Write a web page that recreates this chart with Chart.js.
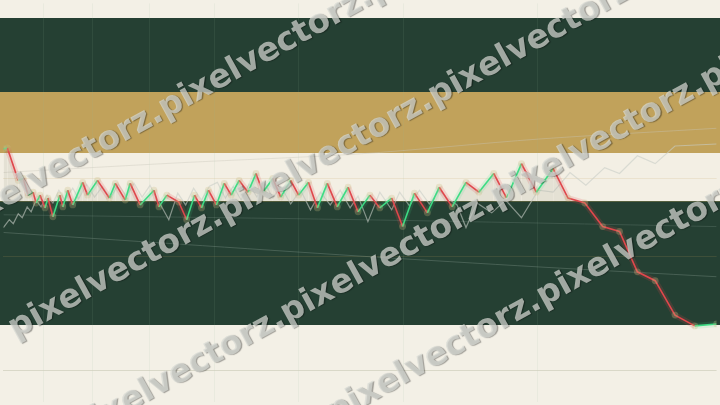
<!DOCTYPE html>
<html><head><meta charset="utf-8">
<script src="https://cdn.jsdelivr.net/npm/chart.js@4"></script>
<style>
html,body{margin:0;padding:0;}
body{width:720px;height:405px;overflow:hidden;position:relative;
background:linear-gradient(to bottom,#f3f0e6 0px,#f3f0e6 18px,#254033 18px,#254033 92px,#c1a25b 92px,#c1a25b 153px,#f3efe4 153px,#f3efe4 201px,#55603f 201px,#55603f 202px,#254033 202px,#254033 325px,#f3f0e6 325px);}
#c{position:absolute;left:0;top:0;}
#wm{position:absolute;left:0;top:0;width:720px;height:405px;overflow:hidden;pointer-events:none;}
.wm{position:absolute;left:0;top:0;white-space:nowrap;font-family:"DejaVu Sans";font-weight:bold;line-height:1;color:rgba(215,218,212,0.72);text-shadow:1px 1px 1px rgba(0,0,0,0.35);transform-origin:0 0;}
</style></head>
<body>
<canvas id="c" width="720" height="405"></canvas>
<div id="wm"></div>
<script>
// ---- data (time on x, price on y) ----
const mainTime = [0,4,15,20,25,30,33,37,42,45,50,57,60,65,70,80,85,95,107,113,123,128,138,152,157,165,177,185,193,200,207,215,223,230,238,247,255,262,272,280,290,298,308,317,327,337,348,358,370,380,392,403,415,428,440,453,467,480,495,508,523,538,555,570,587,605,622,640,658,678,698,720];
const mainPrice = [257,258,225,227,210,213,202,210,197,207,188,210,198,215,200,223,210,225,207,222,205,222,200,215,198,210,203,185,210,197,215,200,222,210,225,213,232,213,227,208,225,210,223,197,222,198,218,193,210,197,207,178,212,192,218,198,223,213,232,207,242,213,237,207,202,178,173,132,123,88,77,79];
const refTime = [0,6,10,15,19,24,28,33,38,44,50,56,62,70,76,84,92,100,108,116,124,132,140,148,156,167,176,184,192,200,208,216,224,232,240,248,256,264,272,280,290,300,310,320,330,340,350,358,368,380,392,400,410,420,430,440,448,458,467,478,493,507,523,540,555,572,588,607,622,640,658,678,720];
const refPrice = [177,185,181,191,187,198,193,205,198,210,202,215,205,217,206,221,208,219,207,221,209,222,208,220,205,185,212,200,217,205,219,223,207,219,205,221,208,222,207,219,201,215,195,213,200,215,197,209,183,213,195,213,199,215,201,215,207,200,177,202,192,205,187,215,213,233,220,238,232,250,242,260,262];
const trendATime = [0,180,360,540,720];
const trendAPrice = [172,160,148,137,127];
const trendBTime = [0,360,720];
const trendBPrice = [190,185,178];
const trendCTime = [0,180,360,540,720];
const trendCPrice = [233,243,252,267,278];
const gridTimes = [40,90,147,213,298,404,539];
const gridPrices = [227,148,32];
const baseLevel = 203;
const watermarkText = "pixelvectorz.";

const pts = (xs, ys) => xs.map((x, i) => ({x: x, y: ys[i]}));
const up = c => c.p1.parsed.y >= c.p0.parsed.y;
const GREEN = '#3ddc84', RED = '#e0474c';

new Chart(document.getElementById('c'), {
  type: 'line',
  data: { datasets: [
    { data: pts(mainTime, mainPrice), borderWidth: 1.6, tension: 0,
      segment: { borderColor: c => up(c) ? GREEN : RED },
      pointRadius: 3.4, pointHoverRadius: 0, pointBackgroundColor: 'rgba(200,185,130,0.28)', pointBorderWidth: 0,
      fill: { target: { value: baseLevel }, above: 'rgba(40,40,20,0.07)', below: 'rgba(0,0,0,0)' } },
    { data: pts(mainTime, mainPrice), borderWidth: 6, tension: 0, pointRadius: 0, fill: false,
      segment: { borderColor: c => up(c) ? 'rgba(61,220,132,0.13)' : 'rgba(224,71,76,0.17)' } },
    { data: pts(refTime, refPrice), borderWidth: 1.2, tension: 0, pointRadius: 0, fill: false,
      borderColor: 'rgba(200,205,198,0.6)' },
    { data: pts(trendATime, trendAPrice), borderWidth: 1, tension: 0.3, pointRadius: 0, fill: false,
      borderColor: 'rgba(160,180,170,0.28)' },
    { data: pts(trendBTime, trendBPrice), borderWidth: 1, tension: 0.3, pointRadius: 0, fill: false,
      borderColor: 'rgba(160,180,170,0.2)' },
    { data: pts(trendCTime, trendCPrice), borderWidth: 1, tension: 0.3, pointRadius: 0, fill: false,
      borderColor: 'rgba(200,198,185,0.4)' }
  ]},
  options: {
    responsive: false, animation: false, devicePixelRatio: 1,
    layout: { padding: 0 },
    plugins: { legend: { display: false }, tooltip: { enabled: false } },
    events: [],
    scales: {
      x: { type: 'linear', min: 0, max: 720,
        afterBuildTicks: s => { s.ticks = gridTimes.map(v => ({ value: v })); },
        ticks: { display: false }, border: { display: false },
        grid: { drawTicks: false, color: 'rgba(150,185,160,0.10)', lineWidth: 1 } },
      y: { type: 'linear', min: 0, max: 405,
        afterBuildTicks: s => { s.ticks = gridPrices.map(v => ({ value: v })); },
        ticks: { display: false }, border: { display: false },
        grid: { drawTicks: false, lineWidth: 1,
          color: c => c.tick && c.tick.value === 32 ? 'rgba(200,200,180,0.6)' : 'rgba(194,163,91,0.16)' } }
    }
  }
});

// ---- watermark ----
(function(){
  const wm = document.getElementById('wm');
  const meas = document.createElement('canvas').getContext('2d');
  meas.font = 'bold 33px "DejaVu Sans"';
  const w = meas.measureText(watermarkText).width;
  const P = 240;
  const fs = 33 * P / w;
  const ang = -29 * Math.PI / 180;
  const ux = Math.cos(ang), uy = Math.sin(ang);
  const dx = -uy, dy = ux;
  const lx = 0.38 * fs, ly = 0.58 * fs;
  const lines = [
    { a: [172,105], k: 2, n: 5 },
    { a: [22,325],  k: 0, n: 4 },
    { a: [294,310], k: 2, n: 5 },
    { a: [550,293], k: 3, n: 5 }
  ];
  lines.forEach(L => {
    const X = L.a[0] - lx*ux - ly*dx - L.k*P*ux;
    const Y = L.a[1] - lx*uy - ly*dy - L.k*P*uy;
    const s = document.createElement('div');
    s.className = 'wm';
    s.style.fontSize = fs + 'px';
    s.textContent = watermarkText.repeat(L.n);
    s.style.transform = 'translate(' + X + 'px,' + Y + 'px) rotate(-29deg)';
    wm.appendChild(s);
  });
})();
</script>
</body></html>
